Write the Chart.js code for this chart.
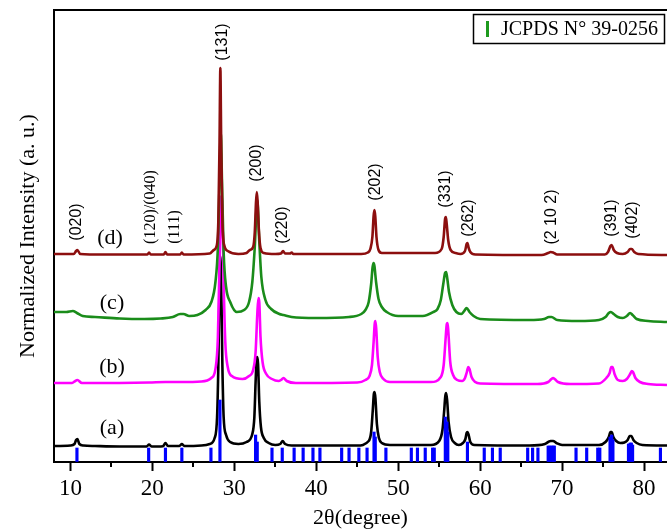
<!DOCTYPE html>
<html><head><meta charset="utf-8">
<script src="https://cdn.jsdelivr.net/npm/chart.js@4"></script>
<style>html,body{margin:0;padding:0;background:#fff}</style>
</head><body>
<canvas id="c" width="667" height="532"></canvas>
<script>
// ---- data (2θ in degrees, intensity in arbitrary offset units) ----
const xTicks = [10, 20, 30, 40, 50, 60, 70, 80];
const xMinorTicks = [15, 25, 35, 45, 55, 65, 75];

const curveA = [[8,16],[10,16.5],[10.5,18],[10.7,22],[10.85,23],[11.1,18],[11.6,16.5],[13,16],[16,15.5],[19.3,15.5],[19.6,17.5],[19.9,15.5],[21.3,15.8],[21.6,19],[21.9,16],[23.3,16],[23.6,18],[23.9,16],[26,16.5],[27,18],[27.6,24],[27.9,45],[28.05,95],[28.18,170],[28.3,206],[28.42,170],[28.55,95],[28.7,45],[29,27],[29.5,20],[30.5,18],[31.5,20],[32.2,28],[32.45,45],[32.6,80],[32.72,102],[32.8,105],[32.9,98],[33.05,60],[33.25,35],[33.6,24],[34.2,19],[35,17],[35.6,18],[35.9,21],[36.2,18],[37,16.5],[45,16.5],[46.4,21],[46.7,30],[46.9,52],[47.03,68],[47.12,70],[47.22,64],[47.4,38],[47.65,24],[48,19],[49,17],[54,17],[55,21],[55.4,32],[55.6,50],[55.75,66],[55.85,69],[55.97,62],[56.15,40],[56.45,25],[56.9,19],[57.4,17],[57.9,19],[58.2,23],[58.35,29],[58.45,30],[58.6,27],[58.8,20],[59.3,17],[66,16.5],[67.9,18],[68.3,20],[68.6,21],[68.9,21],[69.3,19],[70,17],[74.5,17],[75.3,20],[75.7,25],[75.9,30],[76.05,30],[76.25,25],[76.6,21],[77.1,19],[77.6,19.5],[78,22],[78.25,26],[78.45,26],[78.7,22],[79.1,19],[79.8,17],[82.8,16.5]];

const curveB = [[8,79],[10.2,79],[10.6,81],[10.85,82],[11.4,79],[19.6,79.5],[21.6,80],[23.6,80],[26,80.5],[27.2,84],[27.7,93],[28,125],[28.2,200],[28.35,258],[28.45,266],[28.55,250],[28.7,180],[28.9,120],[29.2,95],[29.7,86],[31,83],[31.8,86],[32.3,92],[32.6,110],[32.82,150],[32.95,164],[33.05,160],[33.2,125],[33.45,100],[33.9,88],[34.6,83],[35.4,81],[35.7,82],[36,84],[36.4,81],[37.5,79],[45,79.5],[46,82],[46.5,86],[46.8,97],[47,120],[47.13,138],[47.22,141],[47.32,133],[47.5,105],[47.75,90],[48.2,83],[49,80],[54,80],[55.2,85],[55.55,97],[55.8,125],[55.93,138],[56.02,139],[56.12,130],[56.35,100],[56.7,87],[57.2,82],[57.8,81],[58.15,84],[58.38,90],[58.55,95],[58.7,93],[58.95,85],[59.4,80],[60,78.5],[67,78],[68.3,80],[68.7,83],[68.9,84],[69.1,83],[69.5,80],[71,78],[74.5,78.5],[75.4,84],[75.8,89],[76,95],[76.15,95],[76.4,88],[76.8,82],[77.4,81],[77.9,83],[78.3,88],[78.5,91],[78.65,90],[78.95,84],[79.5,80],[80.5,78],[82.8,77]];

const curveC = [[8,150],[9.5,150],[10.3,151],[10.8,149],[11.5,146],[13,145],[16,143.5],[19,143],[21,143.5],[22.5,145],[23.4,148],[23.8,148],[24.5,146],[25.5,147],[26.5,152],[27.2,160],[27.7,180],[28,215],[28.2,280],[28.35,331],[28.5,280],[28.7,210],[29,175],[29.5,160],[30.3,150],[31.2,152],[31.8,160],[32.2,180],[32.5,215],[32.8,262],[33.05,220],[33.3,185],[33.8,162],[34.5,153],[35.5,148],[36,147],[37,145],[40,144],[44,145],[45.5,148],[46,152],[46.4,160],[46.7,178],[46.88,195],[47,199],[47.1,196],[47.3,180],[47.6,163],[48,155],[48.6,150],[50,146],[53,146],[54.3,150],[54.8,153],[55.2,162],[55.5,178],[55.72,189],[55.85,190],[55.98,184],[56.2,170],[56.6,157],[57.1,150],[57.7,148],[58.05,151],[58.35,154],[58.7,150],[59.2,146],[60,143],[66,142],[67.8,143],[68.4,145],[68.7,145],[69.4,142],[72,141],[74.5,142],[75.3,145],[75.7,149],[75.95,150],[76.3,148],[76.8,145],[77.4,144],[77.9,146],[78.3,149],[78.6,147],[79.1,143],[80.5,141],[82.8,140]];

const curveD = [[8,208],[10.4,208],[10.7,211],[10.85,212],[11.2,208],[14,207.5],[19.4,207.5],[19.6,209.5],[19.8,207.5],[21.4,207.5],[21.6,210],[21.8,207.5],[23.4,207.5],[23.6,209.5],[23.8,207.5],[27,208.5],[27.5,212],[27.8,215],[28.05,240],[28.2,320],[28.3,394],[28.4,320],[28.55,240],[28.8,216],[29.2,211],[30.5,208],[31.5,209],[31.9,212],[32.3,215],[32.5,230],[32.65,260],[32.75,270],[32.85,260],[33,232],[33.2,214],[33.6,209],[35,208],[35.7,208.5],[35.95,211],[36.2,208.5],[36.8,208.5],[37,209.5],[37.2,208],[45.5,208],[46.3,209.5],[46.6,213],[46.85,225],[47,246],[47.1,252],[47.2,246],[47.35,225],[47.6,212],[48,209],[54.5,209],[55.3,213],[55.55,225],[55.72,243],[55.82,245],[55.92,238],[56.1,222],[56.4,212],[57,209],[57.6,208],[58.15,211],[58.35,218],[58.45,219],[58.6,214],[58.8,210],[59.4,207.5],[67.5,207],[68.3,209],[68.6,210],[68.9,209.5],[69.4,207.5],[75.2,207.5],[75.6,210],[75.9,216],[76.05,217],[76.3,212],[76.7,209],[77.4,208],[78,210],[78.3,213],[78.5,213],[78.8,210],[79.3,208],[82.8,207]];

// JCPDS 39-0256 reference lines: positions (2θ) and relative heights
const stickPos = [10.8,19.55,21.6,23.6,27.15,28.25,32.6,32.8,34.6,35.85,37.3,38.4,39.6,40.45,43.1,44.0,45.2,46.2,47.05,47.2,48.5,51.6,52.35,53.3,54.2,54.4,55.75,55.95,56.05,58.45,60.5,61.5,62.45,65.8,66.4,67.05,68.3,68.5,68.7,68.9,69.05,71.7,73.0,74.35,74.6,75.85,76.05,76.2,78.1,78.3,78.45,78.6,82.0];
const stickH   = [14,14,14,14,14,62,27,20,14,14,14,14,14,14,14,14,14,14,30,25,14,14,14,14,14,14,45,40,30,20,14,14,14,14,14,14,16,16,16,16,16,14,14,14,14,25,27,22,18,19,19,17,14];

const peakLabels = ['(020)','(120)/(040)','(111)','(131)','(200)','(220)','(202)','(331)','(262)','(2 10 2)','(391)','(402)'];
const peakPos    = [10.7,19.77,22.8,28.56,32.7,35.9,47.2,55.8,58.6,68.7,76.05,78.6];
const sampleLabels = ['(a)','(b)','(c)','(d)'];
const legendText = 'JCPDS N° 39-0256';

// ---- layout / style (kept apart from data) ----
const peakLabelY = [222,207,227,42,163,225,182,189,218,217,218,220];
const peakLabelSerif = [false,true,true,false,false,false,false,false,false,false,false,false];
const sampleLabelXY = [[112,428],[112,367],[112,303],[110,238]];

const toXY = a => a.map(p => ({x: p[0], y: p[1]}));

const deco = {
  id: 'deco',
  afterDraw(chart) {
    const {ctx, chartArea: ca, scales: {x}} = chart;
    ctx.save();
    ctx.strokeStyle = '#000';
    ctx.lineWidth = 2;
    ctx.beginPath();
    ctx.moveTo(ca.left - 1, ca.top); ctx.lineTo(ca.right + 2, ca.top);
    ctx.stroke();
    ctx.beginPath();
    xMinorTicks.forEach(v => {
      const px = Math.round(x.getPixelForValue(v));
      ctx.moveTo(px, ca.bottom); ctx.lineTo(px, ca.bottom + 5);
    });
    ctx.stroke();
    ctx.fillStyle = '#000';
    ctx.textAlign = 'center';
    ctx.textBaseline = 'middle';
    peakLabels.forEach((t, i) => {
      ctx.save();
      ctx.translate(x.getPixelForValue(peakPos[i]), peakLabelY[i]);
      ctx.rotate(-Math.PI / 2);
      ctx.font = peakLabelSerif[i] ? '16px "Liberation Serif"' : '16px "Liberation Sans"';
      ctx.fillText(t, 0, 0);
      ctx.restore();
    });
    ctx.font = '22px "Liberation Serif"';
    sampleLabels.forEach((t, i) => ctx.fillText(t, sampleLabelXY[i][0], sampleLabelXY[i][1]));
    ctx.lineWidth = 1.5;
    ctx.strokeRect(473.5, 14.5, 191, 29);
    ctx.fillStyle = '#1e9a1e';
    ctx.fillRect(486, 21, 3, 16);
    ctx.fillStyle = '#000';
    ctx.textAlign = 'left';
    ctx.font = '20px "Liberation Serif"';
    ctx.fillText(legendText, 501, 30);
    ctx.restore();
  }
};

const lineDs = (data, color, order) => ({
  type: 'line', data: toXY(data), borderColor: color, borderWidth: 2.6,
  pointRadius: 0, fill: false, cubicInterpolationMode: 'monotone', order
});

new Chart(document.getElementById('c'), {
  type: 'line',
  data: {
    datasets: [
      {type: 'bar', data: stickPos.map((p, i) => ({x: p, y: stickH[i]})), backgroundColor: '#0000ff',
       borderWidth: 0, barThickness: 2.5, order: 0},
      lineDs(curveD, '#8c0f0f', 1),
      lineDs(curveC, '#1a8c1a', 2),
      lineDs(curveB, '#ff00ff', 3),
      lineDs(curveA, '#000000', 4)
    ]
  },
  options: {
    responsive: false, animation: false,
    layout: {padding: {top: 10, right: 0, left: 0, bottom: 0}},
    plugins: {legend: {display: false}, tooltip: {enabled: false}},
    scales: {
      x: {
        type: 'linear', min: 8, max: 82.8, offset: false,
        afterBuildTicks: s => { s.ticks = xTicks.map(v => ({value: v})); },
        afterFit: s => { s.height = 70; },
        grid: {display: true, drawOnChartArea: false, drawTicks: true, tickLength: 9, tickWidth: 2, tickColor: '#000', offset: false},
        border: {display: true, color: '#000', width: 2},
        ticks: {color: '#000', font: {family: 'Liberation Serif', size: 23}, padding: 4, maxRotation: 0, autoSkip: false},
        title: {display: true, text: '2θ(degree)', color: '#000', font: {family: 'Liberation Serif', size: 22}, padding: {top: 0, bottom: 1}}
      },
      y: {
        type: 'linear', min: 0, max: 452,
        afterFit: s => { s.width = 54; },
        grid: {display: true, drawOnChartArea: false, drawTicks: false},
        border: {display: true, color: '#000', width: 2},
        ticks: {display: false},
        title: {display: true, text: 'Normalized Intensity (a. u.)', color: '#000', font: {family: 'Liberation Serif', size: 22}, padding: {top: 15, bottom: 0}}
      }
    }
  },
  plugins: [deco]
});
</script>
</body></html>
